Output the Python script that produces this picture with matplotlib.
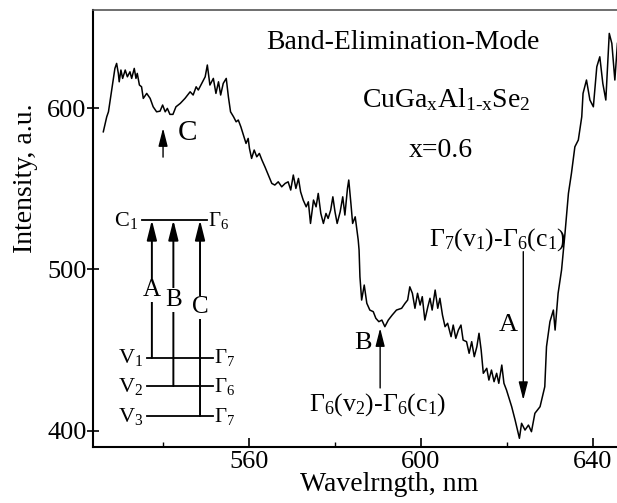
import matplotlib
matplotlib.use("Agg")
import matplotlib.pyplot as plt

# spectrum (nm, a.u.)
wavelength = [526.1, 526.9, 527.3, 528.1, 528.4, 528.8, 529.2, 529.6, 529.8, 530.2,
              530.6, 531.2, 531.7, 532.3, 532.7, 533.3, 533.7, 534.0, 534.5, 535.0,
              535.4, 536.2, 537.0, 537.7, 538.5, 539.3, 539.9, 540.5, 541.0, 541.6,
              542.3, 543.0, 544.0, 545.1, 546.3, 547.0, 547.7, 548.2, 549.0, 549.8,
              550.3, 550.9, 551.7, 552.3, 552.9, 553.4, 554.0, 554.7, 555.2, 555.7,
              556.4, 557.0, 557.5, 558.1, 558.7, 559.3, 559.8, 560.1, 560.6, 561.2,
              561.8, 562.4, 563.0, 563.7, 564.5, 565.3, 566.0, 566.8, 567.6, 568.4,
              569.1, 569.7, 570.3, 570.9, 571.5, 572.0, 572.6, 573.3, 573.8, 574.3,
              575.0, 575.6, 576.1, 576.7, 577.3, 577.9, 578.4, 579.0, 579.5, 580.0,
              580.5, 581.2, 581.8, 582.3, 582.9, 583.2, 583.7, 584.1, 584.7, 585.0,
              585.4, 585.6, 585.8, 586.2, 586.8, 587.4, 588.1, 588.9, 589.5, 590.2,
              590.9, 591.6, 592.4, 593.3, 594.3, 595.5, 596.3, 596.9, 597.4, 598.0,
              598.6, 599.2, 599.8, 600.3, 600.9, 601.6, 602.1, 602.6, 603.3, 603.9,
              604.4, 605.0, 605.6, 606.2, 607.0, 607.5, 608.1, 608.7, 609.3, 609.8,
              610.6, 611.2, 611.8, 612.4, 613.0, 613.5, 614.0, 614.5, 615.3, 615.8,
              616.4, 617.0, 617.6, 618.1, 618.8, 619.3, 619.9, 621.1, 621.9, 622.9,
              623.4, 624.2, 625.0, 625.7, 626.5, 627.7, 628.8, 629.2, 630.0, 630.8,
              631.2, 631.9, 632.7, 633.5, 634.3, 635.0, 635.8, 636.6, 637.4, 637.7,
              638.5, 639.3, 640.1, 640.9, 641.6, 642.3, 643.0, 643.8, 644.4, 645.1,
              645.7]
intensity = [585.3, 594.6, 597.7, 612.2, 617.4, 624.6, 627.7, 621.5, 616.3, 623.6,
             618.4, 623.6, 619.4, 622.5, 618.4, 624.6, 618.4, 621.5, 614.3, 613.2,
             606.0, 609.1, 606.0, 600.8, 597.7, 598.1, 601.9, 597.7, 599.8, 596.1,
             596.1, 600.8, 602.9, 606.0, 610.1, 608.1, 613.2, 611.2, 615.3, 619.4,
             626.7, 614.3, 618.4, 609.1, 616.3, 608.1, 615.3, 618.4, 607.0, 597.7,
             594.6, 591.5, 592.6, 588.4, 583.3, 578.1, 581.2, 575.0, 568.8, 574.0,
             569.8, 571.9, 567.8, 563.6, 558.5, 553.3, 552.3, 554.3, 551.2, 553.3,
             554.3, 549.2, 558.5, 550.2, 556.4, 548.1, 543.0, 538.8, 541.9, 528.5,
             543.0, 538.8, 547.1, 534.7, 528.5, 534.7, 531.6, 536.8, 545.0, 535.7,
             528.5, 535.7, 545.0, 533.7, 550.2, 555.4, 540.9, 528.5, 532.6, 526.4,
             518.2, 512.0, 495.4, 481.0, 490.3, 479.0, 474.8, 473.8, 469.7, 467.6,
             468.6, 464.5, 468.6, 471.7, 474.8, 475.9, 479.0, 481.0, 489.2, 485.2,
             475.9, 485.2, 477.9, 483.1, 468.6, 476.9, 482.1, 474.8, 487.2, 475.9,
             482.1, 471.7, 464.5, 466.6, 458.3, 465.5, 457.3, 462.4, 465.5, 456.2,
             455.2, 448.0, 455.2, 445.9, 452.1, 460.4, 450.0, 435.6, 438.7, 431.4,
             437.6, 430.4, 435.6, 429.4, 440.7, 429.4, 425.2, 414.9, 406.6, 395.3,
             404.6, 400.4, 403.5, 399.4, 410.8, 414.9, 427.3, 452.1, 467.6, 474.8,
             462.4, 485.2, 499.6, 522.3, 547.1, 559.5, 576.0, 580.2, 594.6, 609.1,
             617.4, 605.0, 600.8, 625.6, 631.8, 615.3, 605.0, 646.3, 640.1, 617.4,
             640.1]

xticks_major = [560, 600, 640]
xticks_minor = [540, 580, 620]
yticks = [400, 500, 600]

# energy level scheme drawn inside the axes
level_names = ["C$_1$", "V$_1$", "V$_2$", "V$_3$"]
level_gammas = ["Γ$_6$", "Γ$_7$", "Γ$_6$", "Γ$_7$"]
level_y = [530.6, 445.1, 427.7, 409.1]
trans_names = ["A", "B", "C"]
trans_x = [537.4, 542.4, 548.6]
trans_from = [445.1, 427.7, 409.1]
trans_label_y = [487.0, 481.0, 476.5]

plt.rcParams["font.family"] = "serif"
plt.rcParams["font.serif"] = ["Liberation Serif", "DejaVu Serif"]
plt.rcParams["mathtext.fontset"] = "custom"
plt.rcParams["mathtext.rm"] = "Liberation Serif"
plt.rcParams["mathtext.it"] = "Liberation Serif"
plt.rcParams["mathtext.default"] = "rm"

fig = plt.figure(figsize=(6.17, 5.03), dpi=100)
ax = fig.add_axes([0.1507, 0.1113, 0.8493, 0.8688])

ax.plot(wavelength, intensity, color="black", lw=1.1)

ax.set_xlim(523.7, 645.6)
ax.set_ylim(389.9, 660.8)
ax.set_xticks(xticks_major)
ax.set_xticks(xticks_minor, minor=True)
ax.set_yticks(yticks)
ax.tick_params(axis="x", which="major", direction="in", length=6.5, width=1.2,
               labelsize=19, pad=3)
ax.tick_params(axis="x", which="minor", direction="in", length=3.6, width=1.0)
ax.tick_params(axis="y", direction="inout", length=8.5, width=1.2,
               labelsize=19, pad=0.5)

ax.spines["right"].set_visible(False)
ax.spines["left"].set_linewidth(1.5)
ax.spines["bottom"].set_linewidth(1.5)
ax.spines["top"].set_linewidth(1.2)
ax.spines["top"].set_color("#555555")

ax.set_xlabel("Wavelrngth, nm", fontsize=20)
ax.xaxis.set_label_coords(0.565, -0.058)
ax.set_ylabel("Intensity, a.u.", fontsize=20)
ax.yaxis.set_label_coords(-0.105, 0.615)

# titles inside plot
ax.text(595.8, 640.9, "Band-Elimination-Mode", fontsize=20, ha="center", va="center")
ax.text(605.8, 605.0, "CuGa$_\\mathrm{x}$Al$_\\mathrm{1\u2010x}$Se$_2$", fontsize=20,
        ha="center", va="center")
ax.text(604.7, 574.0, "x=0.6", fontsize=20, ha="center", va="center")

thin = dict(arrowstyle="-|>,head_length=1.1,head_width=0.28", color="black",
            lw=1.0, shrinkA=0, shrinkB=0, mutation_scale=10)

# C mark on the spectrum
ax.annotate("", xy=(540.0, 587.6), xytext=(540.0, 569.6), arrowprops=thin)
ax.text(545.6, 584.5, "C", fontsize=21, ha="center", va="center")

# B mark
ax.annotate("", xy=(590.5, 463.6), xytext=(590.5, 426.5), arrowprops=thin)
ax.text(586.5, 454.4, "B", fontsize=19, ha="center", va="center")
ax.text(589.8, 415.9, "Γ$_6$(v$_2$)-Γ$_6$(c$_1$)", fontsize=18.5, ha="center", va="center")

# A mark
ax.annotate("", xy=(623.8, 419.0), xytext=(623.8, 511.0), arrowprops=thin)
ax.text(620.2, 465.5, "A", fontsize=19, ha="center", va="center")
ax.text(617.7, 518.2, "Γ$_7$(v$_1$)-Γ$_6$(c$_1$)", fontsize=18.5, ha="center", va="center")

# level scheme
for name, gam, y in zip(level_names, level_gammas, level_y):
    x0 = 535.1 if name.startswith("C") else 536.3
    x1 = 550.2 if name.startswith("C") else 551.6
    ax.plot([x0, x1], [y, y], color="black", lw=1.3)
    ax.text(x0 - 0.9, y, name, fontsize=16, ha="right", va="center")
    ax.text(x1 + 0.3, y, gam, fontsize=15, ha="left", va="center")

thick = dict(arrowstyle="-|>,head_length=1.2,head_width=0.3", color="black",
             lw=1.4, shrinkA=0, shrinkB=0, mutation_scale=10)
for name, x, y0, ly in zip(trans_names, trans_x, trans_from, trans_label_y):
    ax.annotate("", xy=(x, level_y[0]), xytext=(x, y0), arrowprops=thick)
    ax.text(x, ly, name, fontsize=18, ha="center", va="center",
            bbox=dict(facecolor="white", edgecolor="none", pad=0.5))

fig.savefig("out.png", dpi=100)
